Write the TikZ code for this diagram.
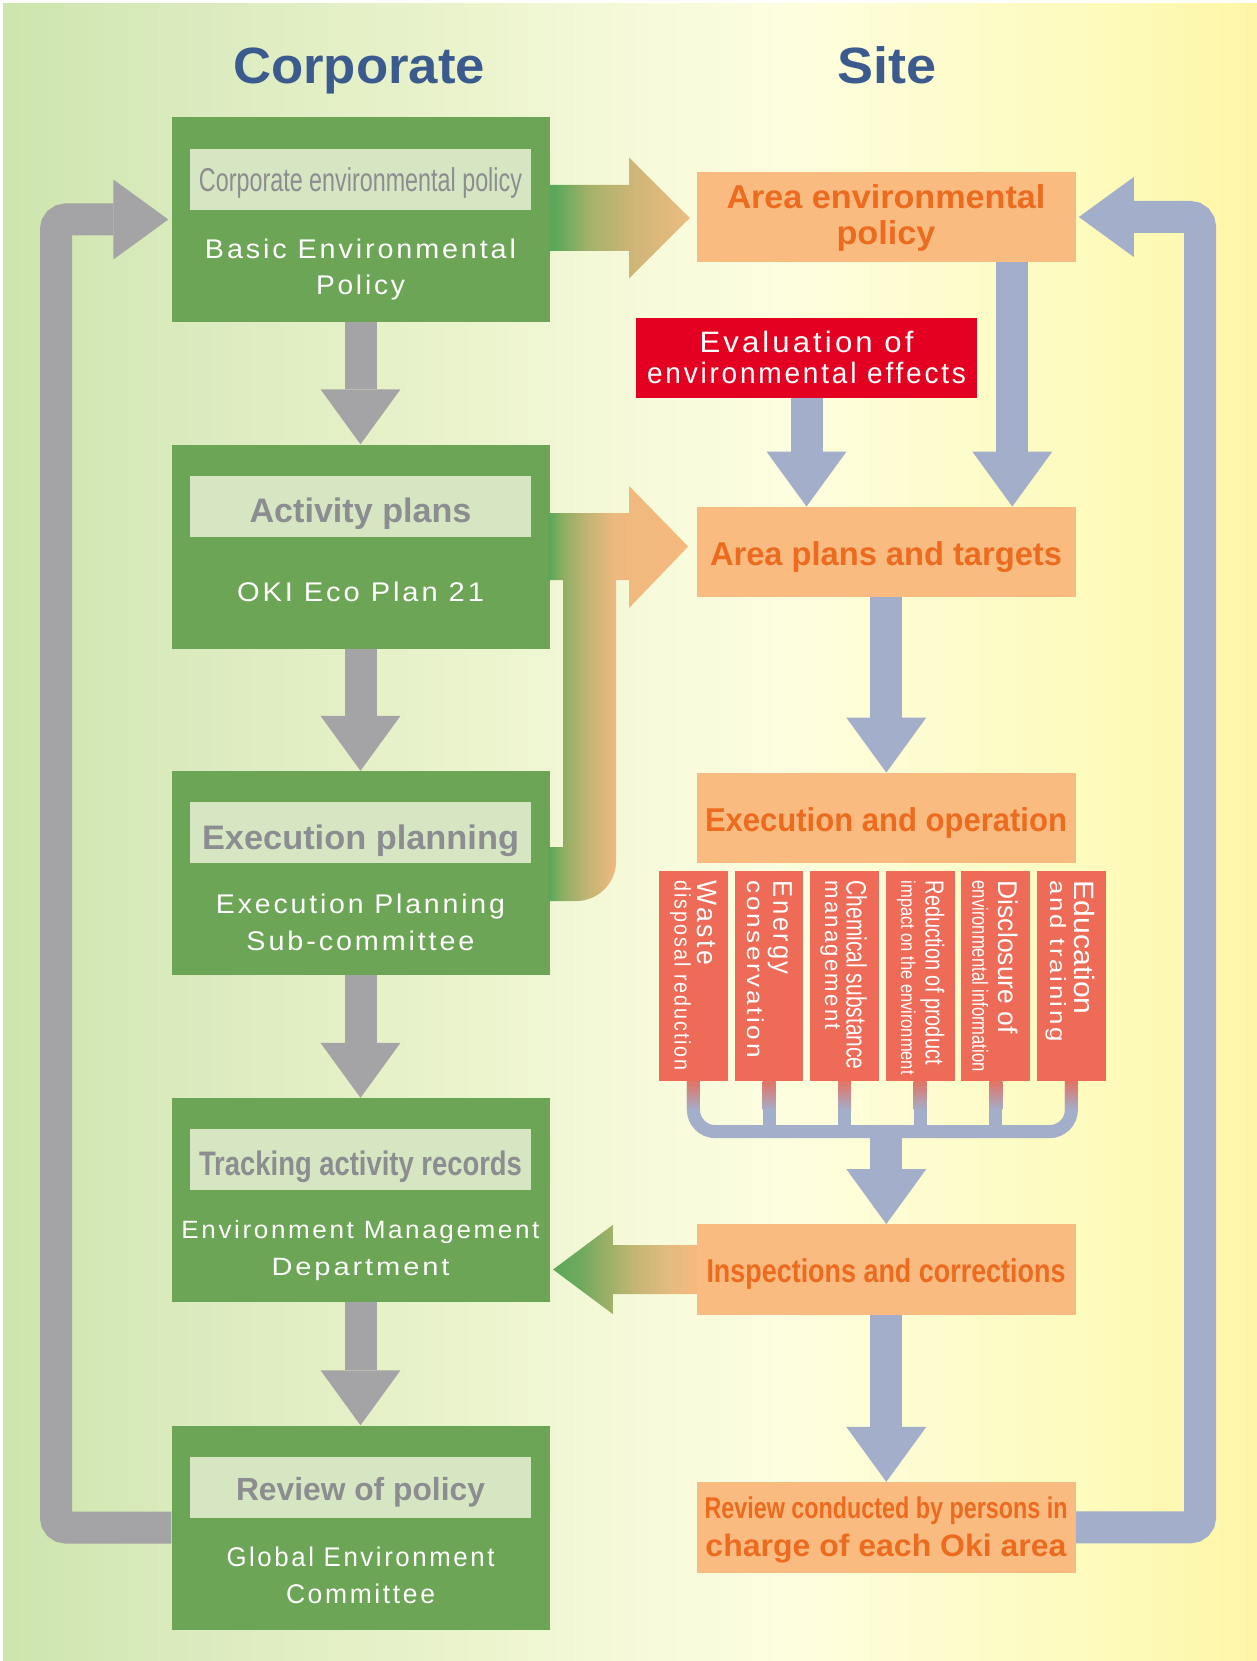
\documentclass[tikz,border=0pt]{standalone}
\usepackage{fontspec}
\setmainfont{Liberation Sans}
\newfontfamily\spacedfont[LetterSpace=10]{Liberation Sans}
\usepackage{graphicx}
\usetikzlibrary{arrows.meta, calc}

\definecolor{ttlblue}{HTML}{3B5A8D}
\definecolor{boxgreen}{HTML}{6CA555}
\definecolor{tintgreen}{HTML}{D6E6C2}
\definecolor{titlegray}{HTML}{8B8D90}
\definecolor{arrgray}{HTML}{A4A4A6}
\definecolor{arrblue}{HTML}{A3AECB}
\definecolor{boxorange}{HTML}{F9BB80}
\definecolor{txtorange}{HTML}{EC6B1F}
\definecolor{evalred}{HTML}{E30020}
\definecolor{subred}{HTML}{EE6B58}
\definecolor{stubred}{HTML}{E27466}
% background
\definecolor{bgA}{HTML}{CDE5AD}
\definecolor{bgB}{HTML}{DCEBBF}
\definecolor{bgC}{HTML}{EAF3CC}
\definecolor{bgD}{HTML}{F7FADB}
\definecolor{bgE}{HTML}{FDFDE0}
\definecolor{bgF}{HTML}{FDFCCC}
\definecolor{bgG}{HTML}{FDFAB8}
\definecolor{bgH}{HTML}{FEF5A6}
% green to orange
\definecolor{goA}{HTML}{5CA85A}
\definecolor{goB}{HTML}{A5B26A}
\definecolor{goC}{HTML}{CDB576}
\definecolor{goD}{HTML}{ECBC81}
\definecolor{goE}{HTML}{8FAE64}
\definecolor{goF}{HTML}{C8B575}
\definecolor{goG}{HTML}{EEB97E}
\definecolor{goH}{HTML}{F6B97E}
\definecolor{goI}{HTML}{6FA95E}
\definecolor{goJ}{HTML}{9AB068}
\definecolor{goK}{HTML}{C2B573}
\definecolor{goL}{HTML}{E2BB80}

\pgfdeclarehorizontalshading{bgshade}{100bp}{color(0bp)=(bgA); color(25bp)=(bgA);
  color(33bp)=(bgB); color(43bp)=(bgC); color(51bp)=(bgD); color(56bp)=(bgE);
  color(63bp)=(bgF); color(70bp)=(bgG); color(75bp)=(bgH); color(100bp)=(bgH)}
\pgfdeclarehorizontalshading{policyshade}{100bp}{color(0bp)=(goA); color(27bp)=(goA);
  color(39.4bp)=(goB); color(53.6bp)=(goC); color(75bp)=(goD); color(100bp)=(goD)}
\pgfdeclarehorizontalshading{planshade}{100bp}{color(0bp)=(goA); color(25bp)=(goA);
  color(29.8bp)=(goE); color(39.6bp)=(goF); color(48.6bp)=(goG); color(75bp)=(goH); color(100bp)=(goH)}
\pgfdeclarehorizontalshading{checkshade}{100bp}{color(0bp)=(goA); color(25bp)=(goA);
  color(34.4bp)=(goI); color(43.75bp)=(goJ); color(52.8bp)=(goK); color(64.6bp)=(goL);
  color(75bp)=(goH); color(100bp)=(goH)}

\newcommand{\fitw}[2]{\resizebox{#1pt}{\height}{#2}}

\tikzset{
  heading/.style={anchor=base, inner sep=0pt, text=ttlblue, font=\fontsize{51}{51}\selectfont\bfseries},
  gbox/.style={fill=boxgreen, minimum width=378pt, minimum height=204pt, inner sep=0pt},
  tbox/.style={fill=tintgreen, minimum width=341pt, minimum height=61pt, inner sep=0pt},
  obox/.style={fill=boxorange, minimum width=378.7pt, minimum height=90.5pt, inner sep=0pt},
  rbox/.style={fill=evalred, minimum width=341pt, minimum height=80pt, inner sep=0pt},
  subbox/.style={fill=subred, minimum width=68.7pt, minimum height=210.5pt, inner sep=0pt},
  gtitle/.style={anchor=base, inner sep=0pt, text=titlegray, font=\fontsize{34}{34}\selectfont\bfseries},
  gbody/.style={anchor=base, inner sep=0pt, text=white, font=\spacedfont\fontsize{27}{27}\selectfont},
  otext/.style={anchor=base, inner sep=0pt, text=txtorange, font=\fontsize{33}{33}\selectfont\bfseries},
  subtxt/.style={anchor=base west, rotate=-90, inner sep=0pt, text=white},
  blockarrow/.style={line width=32pt, -{Triangle[width=80pt, length=55pt, line width=0pt]}},
  grayarrow/.style={blockarrow, draw=arrgray},
  bluearrow/.style={blockarrow, draw=arrblue},
  loopline/.style={blockarrow, rounded corners=10pt, shorten >=3pt},
  combline/.style={draw=arrblue, line width=13pt, rounded corners=22pt}
}

\begin{document}
\begin{tikzpicture}[x=1pt, y=-1pt]
  \useasboundingbox (0,0) rectangle (1257,1661);
  \shade[shading=bgshade] (3,4) rectangle (1257,1661);

  \node[heading] (hcorp) at (359,83.3) {\fitw{252}{Corporate}};
  \node[heading] (hsite) at (887,83.3) {\fitw{99}{Site}};

  % corporate column
  \node[gbox] (corp) at (360.5,219.5) {};
  \node[gbox] (act)  at (360.5,546.5) {};
  \node[gbox] (exp)  at (360.5,873) {};
  \node[gbox] (trk)  at (360.5,1200) {};
  \node[gbox] (rvw)  at (360.5,1527.5) {};
  \node[tbox] (corpT) at ($(corp.north)+(0,62)$) {};
  \node[tbox] (actT)  at ($(act.north)+(0,62)$) {};
  \node[tbox] (expT)  at ($(exp.north)+(0,62)$) {};
  \node[tbox] (trkT)  at ($(trk.north)+(0,62)$) {};
  \node[tbox] (rvwT)  at ($(rvw.north)+(0,62)$) {};

  \node[gtitle, font=\fontsize{33}{33}\selectfont] (corpH) at (360.5,191.7) {\fitw{323}{Corporate environmental policy}};
  \node[gtitle] (actH) at (360.5,522) {\fitw{222}{Activity plans}};
  \node[gtitle] (expH) at (360.5,849) {\fitw{317}{Execution planning}};
  \node[gtitle] (trkH) at (360.5,1175) {\fitw{323}{Tracking activity records}};
  \node[gtitle, font=\fontsize{32}{32}\selectfont\bfseries] (rvwH) at (360.5,1500) {\fitw{249}{Review of policy}};

  \node[gbody] (corpB1) at (360.5,258.3) {\fitw{311}{Basic Environmental}};
  \node[gbody] (corpB2) at (360.5,295) {\fitw{89}{Policy}};
  \node[gbody] (actB1)  at (360.5,601) {\fitw{247}{OKI Eco Plan 21}};
  \node[gbody] (expB1)  at (360.5,913) {\fitw{289}{Execution Planning}};
  \node[gbody] (expB2)  at (360.5,950.5) {\fitw{228}{Sub-committee}};
  \node[gbody, font=\spacedfont\fontsize{25}{25}\selectfont] (trkB1) at (360.5,1238.3) {\fitw{358}{Environment Management}};
  \node[gbody, font=\spacedfont\fontsize{25}{25}\selectfont] (trkB2) at (360.5,1275) {\fitw{178}{Department}};
  \node[gbody] (rvwB1)  at (360.5,1566.5) {\fitw{268}{Global Environment}};
  \node[gbody] (rvwB2)  at (360.5,1603) {\fitw{149}{Committee}};

  % site column
  \node[obox] (aep)   at (886.3,217) {};
  \node[obox] (apt)   at (886.3,552) {};
  \node[obox] (exe)   at (886.3,818) {};
  \node[obox] (insp)  at (886.3,1269.5) {};
  \node[obox] (rsite) at (886.3,1527.3) {};
  \node[rbox] (evalfx) at (806.5,357.7) {};

  \node[otext] (aepL1) at (886,208.3) {\fitw{319}{Area environmental}};
  \node[otext] (aepL2) at (886,245) {\fitw{99}{policy}};
  \node[otext] (aptL)  at (886,565) {\fitw{352}{Area plans and targets}};
  \node[otext] (exeL)  at (886,831) {\fitw{362}{Execution and operation}};
  \node[otext] (inspL) at (886,1282.3) {\fitw{359}{Inspections and corrections}};
  \node[otext, font=\fontsize{30}{30}\selectfont\bfseries] (rsiteL1) at (886,1518.3) {\fitw{363}{Review conducted by persons in}};
  \node[otext, font=\fontsize{31}{31}\selectfont\bfseries] (rsiteL2) at (886,1556.7) {\fitw{361}{charge of each Oki area}};
  \node[gbody, font=\spacedfont\fontsize{29.5}{29.5}\selectfont] (evalL1) at (806.5,352.3) {\fitw{214}{Evaluation of}};
  \node[gbody, font=\spacedfont\fontsize{29.5}{29.5}\selectfont] (evalL2) at (806.5,383.3) {\fitw{319}{environmental effects}};

  % six fields of execution
  \node[subbox] (s1) at (693.4,976.2) {};
  \node[subbox] (s2) at (769,976.2) {};
  \node[subbox] (s3) at (844.6,976.2) {};
  \node[subbox] (s4) at (920.2,976.2) {};
  \node[subbox] (s5) at (995.8,976.2) {};
  \node[subbox] (s6) at (1071.4,976.2) {};
  \node[subtxt, font=\spacedfont\fontsize{28}{28}\selectfont] (s1a) at (697,880.5) {\fitw{85}{Waste}};
  \node[subtxt, font=\spacedfont\fontsize{22.5}{22.5}\selectfont] (s1b) at (674.5,880.5) {\fitw{190}{disposal reduction}};
  \node[subtxt, font=\spacedfont\fontsize{27}{27}\selectfont] (s2a) at (773.3,880.5) {\fitw{94}{Energy}};
  \node[subtxt, font=\spacedfont\fontsize{23}{23}\selectfont] (s2b) at (747,880.5) {\fitw{177}{conservation}};
  \node[subtxt, font=\fontsize{28}{28}\selectfont] (s3a) at (846.7,880.5) {\fitw{189}{Chemical substance}};
  \node[subtxt, font=\spacedfont\fontsize{23}{23}\selectfont] (s3b) at (825,880.5) {\fitw{149}{management}};
  \node[subtxt, font=\fontsize{26}{26}\selectfont] (s4a) at (925.7,880.5) {\fitw{184}{Reduction of product}};
  \node[subtxt, font=\fontsize{20}{20}\selectfont] (s4b) at (901,880.5) {\fitw{194}{impact on the environment}};
  \node[subtxt, font=\fontsize{27}{27}\selectfont] (s5a) at (998.3,880.5) {\fitw{153}{Disclosure of}};
  \node[subtxt, font=\fontsize{22}{22}\selectfont] (s5b) at (972.3,880.5) {\fitw{191}{environmental information}};
  \node[subtxt, font=\fontsize{28}{28}\selectfont] (s6a) at (1074.3,880.5) {\fitw{134}{Education}};
  \node[subtxt, font=\spacedfont\fontsize{22}{22}\selectfont] (s6b) at (1050,880.5) {\fitw{161}{and training}};

  % corporate flow
  \draw[grayarrow] (corp) -- (act);
  \draw[grayarrow] (act) -- (exp);
  \draw[grayarrow] (exp) -- (trk);
  \draw[grayarrow] (trk) -- (rvw);
  \coordinate (lcorner) at (56,219.5);
  \draw[loopline, draw=arrgray] (rvw.west) -| (lcorner) -- (corp.west);

  % site flow
  \draw[bluearrow] ($(aep.south)+(126,0)$) -- ($(apt.north)+(126,0)$);
  \draw[bluearrow] (evalfx) -- (evalfx |- apt.north);
  \draw[bluearrow] (apt) -- (exe);
  \draw[bluearrow] (insp) -- (rsite);
  \coordinate (rcorner) at (1200,217);
  \draw[loopline, draw=arrblue] (rsite.east) -| (rcorner) -- (aep.east);

  % fields join into one
  \draw[combline] (s1.south) -- ($(s1.south)+(0,50)$) -- ($(s6.south)+(0,50)$) -- (s6.south);
  \foreach \i in {2,...,5}
    \draw[combline] (s\i.south) -- ++(0,50);
  \foreach \i in {1,...,6}
    \shade[top color=stubred, bottom color=arrblue] ($(s\i.south)+(-6.5,0)$) rectangle ($(s\i.south)+(6.5,28)$);
  \coordinate (combmid) at ($(insp.north)+(0,-92.5)$);
  \draw[bluearrow] (combmid) -- (insp);

  % corporate to site and back
  \shade[shading=policyshade] ($(corp.east)+(0,-34.5)$) -- ($(corp.east)+(79.4,-34.5)$)
    -- ($(corp.east)+(79.4,-62)$) -- ($(aep.west)+(-7,1)$) -- ($(corp.east)+(79.4,59)$)
    -- ($(corp.east)+(79.4,31.5)$) -- ($(corp.east)+(0,31.5)$) -- cycle;
  \shade[shading=planshade] ($(act.east)+(0,-33.5)$) -- ($(act.east)+(79.4,-33.5)$)
    -- ($(act.east)+(79.4,-60.5)$) -- ($(act.east)+(138.4,0)$) -- ($(act.east)+(79.4,61.5)$)
    -- ($(act.east)+(79.4,33.5)$) -- ($(act.east)+(66.4,33.5)$) -- ($(exp.east)+(66.4,-12)$)
    arc[start angle=0, end angle=90, radius=40] -- ($(exp.east)+(0,28)$)
    -- ($(exp.east)+(0,-26)$) -- ($(exp.east)+(13.4,-26)$) -- ($(act.east)+(13.4,33.5)$)
    -- ($(act.east)+(0,33.5)$) -- cycle;
  \shade[shading=checkshade] ($(insp.west)+(0,-24.5)$) -- ($(insp.west)+(-84,-24.5)$)
    -- ($(insp.west)+(-84,-44.5)$) -- ($(trk.east)+(3.4,69.5)$) -- ($(insp.west)+(-84,44.5)$)
    -- ($(insp.west)+(-84,24.5)$) -- ($(insp.west)+(0,24.5)$) -- cycle;
\end{tikzpicture}
\end{document}
